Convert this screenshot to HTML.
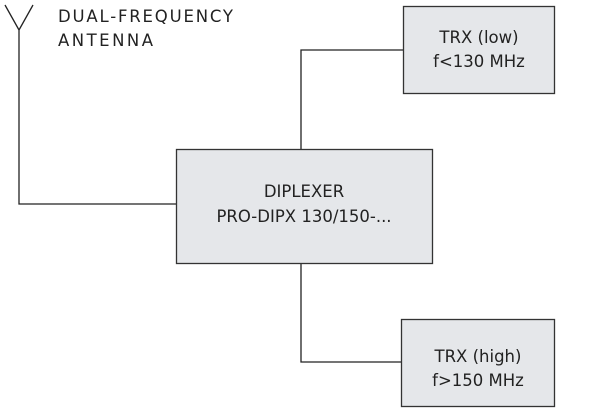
<!DOCTYPE html>
<html><head><style>body{margin:0;background:#fff}svg{display:block}text{font-family:"DejaVu Sans","Liberation Sans",sans-serif;font-size:16.5px;fill:#222}</style></head>
<body>
<svg width="600" height="412" viewBox="0 0 600 412" xmlns="http://www.w3.org/2000/svg">
<g stroke="#222" stroke-width="1.3" fill="none">
<path d="M5 5 L19 30 L33 5 M19 30 V204 H176"/>
<path d="M301 149 V50 H403"/>
<path d="M301 263 V362 H401"/>
</g>
<g fill="#e5e7ea" stroke="#333" stroke-width="1.3">
<rect x="176.5" y="149.5" width="256" height="114"/>
<rect x="403.5" y="6.5" width="151" height="87"/>
<rect x="401.5" y="319.5" width="153" height="87"/>
</g>
<text x="58" y="22" textLength="175">DUAL-FREQUENCY</text>
<text x="58" y="46" textLength="95">ANTENNA</text>
<text x="304" y="197" text-anchor="middle">DIPLEXER</text>
<text x="304" y="222" text-anchor="middle">PRO-DIPX 130/150-...</text>
<text x="479" y="43" text-anchor="middle">TRX (low)</text>
<text x="479" y="67" text-anchor="middle">f&lt;130 MHz</text>
<text x="478" y="362" text-anchor="middle">TRX (high)</text>
<text x="478" y="386" text-anchor="middle">f&gt;150 MHz</text>
</svg>
</body></html>
